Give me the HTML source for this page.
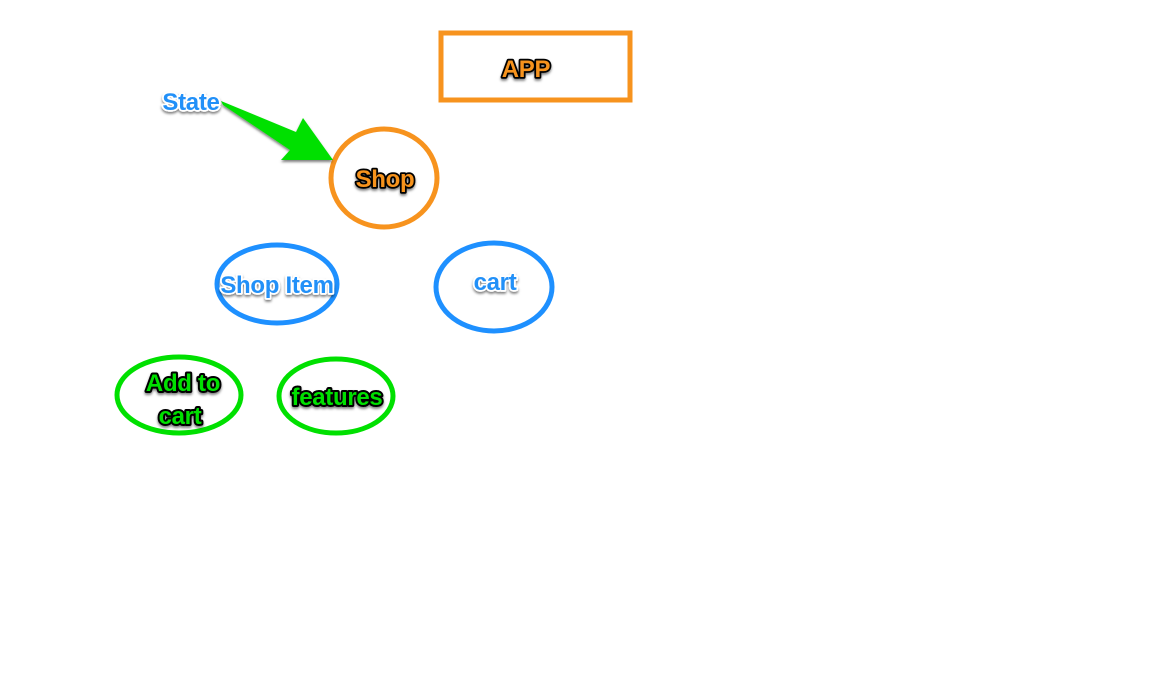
<!DOCTYPE html>
<html><head><meta charset="utf-8"><style>
html,body{margin:0;padding:0;background:#fff;}
svg{display:block;}
text{font-family:"Liberation Sans",Arial,sans-serif;font-weight:bold;font-size:24px;text-anchor:middle;paint-order:stroke fill;stroke-linejoin:round;letter-spacing:-0.3px;}
.o{fill:#f7931e;stroke:#000;stroke-width:3.5px;}
.g{fill:#00e000;stroke:#000;stroke-width:4px;}
.b{fill:#2090f8;stroke:#fff;stroke-width:3.5px;}
</style></head><body>
<svg width="1170" height="679" viewBox="0 0 1170 679" xmlns="http://www.w3.org/2000/svg">
<defs>
<filter id="sh" x="-20%" y="-20%" width="140%" height="160%"><feDropShadow dx="0" dy="2" stdDeviation="1.2" flood-color="#000" flood-opacity="0.5"/></filter>
</defs>
<rect x="441" y="33" width="189" height="67" fill="none" stroke="#f7931e" stroke-width="5"/>
<ellipse cx="384" cy="178" rx="53" ry="49" fill="none" stroke="#f7931e" stroke-width="5"/>
<ellipse cx="277" cy="284" rx="60" ry="39" fill="none" stroke="#1e90ff" stroke-width="5"/>
<ellipse cx="494" cy="287" rx="58" ry="44" fill="none" stroke="#1e90ff" stroke-width="5"/>
<ellipse cx="179" cy="395" rx="62" ry="38" fill="none" stroke="#00e000" stroke-width="5"/>
<ellipse cx="336" cy="396" rx="57" ry="37" fill="none" stroke="#00e000" stroke-width="5"/>
<polygon points="221,101 296,132 303,118 333,160 281,160 290,150 223,105" fill="#00e000" filter="url(#sh)"/>
<text class="o" x="526" y="77" filter="url(#sh)">APP</text>
<text class="o" x="385" y="187" filter="url(#sh)">Shop</text>
<text class="b" x="191" y="110" filter="url(#sh)">State</text>
<text class="b" x="277" y="293" filter="url(#sh)">Shop Item</text>
<text class="b" x="495" y="290" filter="url(#sh)">cart</text>
<text class="g" x="183" y="391" filter="url(#sh)">Add to</text>
<text class="g" x="180" y="424" filter="url(#sh)">cart</text>
<text class="g" x="337" y="405" filter="url(#sh)">features</text>
</svg>
</body></html>
